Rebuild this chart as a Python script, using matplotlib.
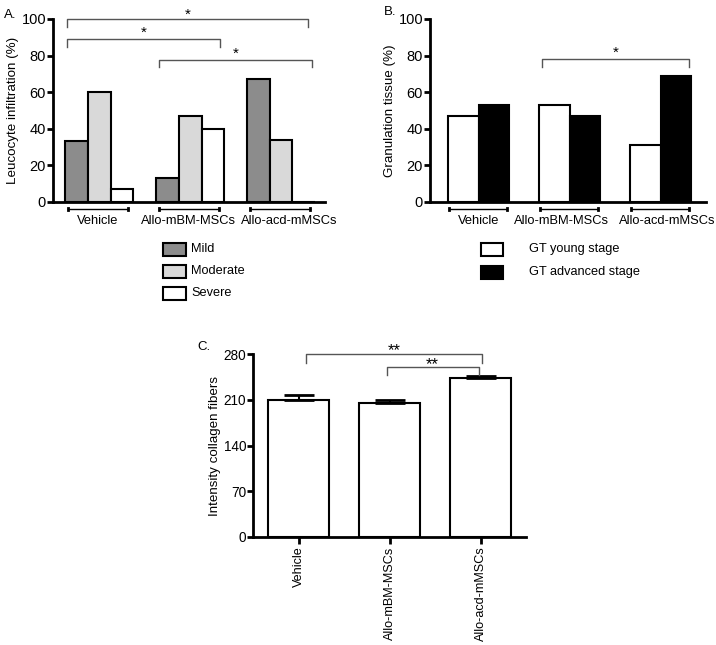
import matplotlib.pyplot as plt
import numpy as np
from matplotlib.patches import Rectangle

plt.rcParams['font.family'] = ['Liberation Sans', 'DejaVu Sans']

#data
groups = ['Vehicle', 'Allo-mBM-MSCs', 'Allo-acd-mMSCs']
# panel A - leucocyte infiltration (%)
mild = [33, 13, 67]
moderate = [60, 47, 34]
severe = [7, 40, 0]
# panel B - granulation tissue (%)
gt_young = [47, 53, 31]
gt_advanced = [53, 47, 69]
# panel C - intensity collagen fibers
collagen = [209, 205, 243]
collagen_err = [9, 5, 3]

W, H = 716, 645
fig = plt.figure(figsize=(W/100, H/100), dpi=100)

def rect(left, top, right, bottom):
    #pixel box -> figure fractions
    return [left/W, 1-bottom/H, (right-left)/W, (bottom-top)/H]

def style_axis(ax, fs=10.5):
    for s in ['top', 'right']:
        ax.spines[s].set_visible(False)
    for s in ['left', 'bottom']:
        ax.spines[s].set_linewidth(2)
    ax.tick_params(axis='y', width=2, length=4, labelsize=fs, pad=1)

def bracket(ax, x1, x2, y, drop, text, ty, fs=11):
    ax.plot([x1, x1, x2, x2], [y-drop, y, y, y-drop], color='#555555', lw=1, clip_on=False)
    ax.text((x1+x2)/2, ty, text, ha='center', va='center', fontsize=fs, clip_on=False)

def underline(ax, x1, x2):
    ax.plot([x1, x2], [-4.2, -4.2], color='black', lw=1, clip_on=False)
    ax.plot([x1, x1], [-3.7, -4.7], color='black', lw=2, clip_on=False)
    ax.plot([x2, x2], [-3.7, -4.7], color='black', lw=2, clip_on=False)

#panel A
axA = fig.add_axes(rect(53, 19, 325, 201.7))
style_axis(axA)
xA = np.arange(3)*4
axA.bar(xA, mild, width=1, align='edge', color='#8c8c8c', edgecolor='black', lw=1.5)
axA.bar(xA+1, moderate, width=1, align='edge', color='#d9d9d9', edgecolor='black', lw=1.5)
axA.bar(xA+2, severe, width=1, align='edge', color='white', edgecolor='black', lw=1.5)
axA.set_xlim(-0.53, 11.43)
axA.set_ylim(0, 100)
axA.set_yticks([0, 20, 40, 60, 80, 100])
axA.set_xticks([])
axA.set_ylabel('Leucocyte infiltration (%)', fontsize=9.6, labelpad=2)
#group labels are not exactly centred in the original
labA_x = [1.45, 5.41, 9.85]
for g, lab in enumerate(groups):
    underline(axA, xA[g]+0.13, xA[g]+2.75)
    axA.text(labA_x[g], -10.4, lab, ha='center', va='center', fontsize=9.3)
bracket(axA, 0.09, 10.7, 100, 4.5, '*', 102.5)
bracket(axA, 0.09, 6.8, 89, 4.5, '*', 92.3)
bracket(axA, 4.13, 10.86, 77.5, 4, '*', 81)
fig.text(4/W, 1-15/H, 'A.', fontsize=9.5, va='center')

#panel B
axB = fig.add_axes(rect(430, 19, 706, 201.7))
style_axis(axB)
xB = np.arange(3)*3
axB.bar(xB, gt_young, width=1, align='edge', color='white', edgecolor='black', lw=1.5)
axB.bar(xB+1, gt_advanced, width=1, align='edge', color='black', edgecolor='black', lw=1.5)
axB.set_xlim(-0.6, 8.5)
axB.set_ylim(0, 100)
axB.set_yticks([0, 20, 40, 60, 80, 100])
axB.set_xticks([])
axB.set_ylabel('Granulation tissue (%)', fontsize=9.6, labelpad=2)
labB_x = [1.0, 3.75, 7.23]
for g, lab in enumerate(groups):
    underline(axB, xB[g]+0.03, xB[g]+1.95)
    axB.text(labB_x[g], -10.4, lab, ha='center', va='center', fontsize=9.3)
bracket(axB, 3.1, 7.95, 78, 4, '*', 81.3)
fig.text(384/W, 1-12/H, 'B.', fontsize=9.5, va='center')

#legends drawn by hand
legA = [('Mild', '#8c8c8c', 249.5), ('Moderate', '#d9d9d9', 271.5), ('Severe', 'white', 293.5)]
for lab, col, yc in legA:
    fig.add_artist(Rectangle((163/W, 1-(yc+6.5)/H), 23/W, 13/H, transform=fig.transFigure,
                             facecolor=col, edgecolor='black', lw=1.5))
    fig.text(191/W, 1-yc/H, lab, fontsize=9.2, va='center')
legB = [('GT young stage', 'white', 249.5), ('GT advanced stage', 'black', 272)]
for lab, col, yc in legB:
    fig.add_artist(Rectangle((481/W, 1-(yc+6.5)/H), 22/W, 13/H, transform=fig.transFigure,
                             facecolor=col, edgecolor='black', lw=1.5))
    fig.text(529/W, 1-yc/H, lab, fontsize=9.2, va='center')

#panel C
axC = fig.add_axes(rect(253, 354, 526, 537))
style_axis(axC, fs=9.8)
xC = np.arange(3)
axC.bar(xC, collagen, width=0.67, color='white', edgecolor='black', lw=1.5)
axC.errorbar(xC, collagen, yerr=[np.zeros(3), collagen_err], fmt='none', ecolor='black',
             elinewidth=1.5, capsize=11, capthick=2)
axC.set_xlim(-0.5, 2.5)
axC.set_ylim(0, 280)
axC.set_yticks([0, 70, 140, 210, 280])
axC.set_xticks(xC)
axC.set_xticklabels(groups, rotation=90, fontsize=9.1)
axC.tick_params(axis='x', width=2, length=5, pad=2)
axC.set_ylabel('Intensity collagen fibers', fontsize=9.6, labelpad=2)
bracket(axC, 0.08, 2.02, 280, 14, '**', 285.5, fs=12)
bracket(axC, 0.97, 1.98, 260, 12, '**', 264.5, fs=12)
fig.text(197/W, 1-347/H, 'C.', fontsize=9.5, va='center')

fig.savefig('out.png', dpi=100)
